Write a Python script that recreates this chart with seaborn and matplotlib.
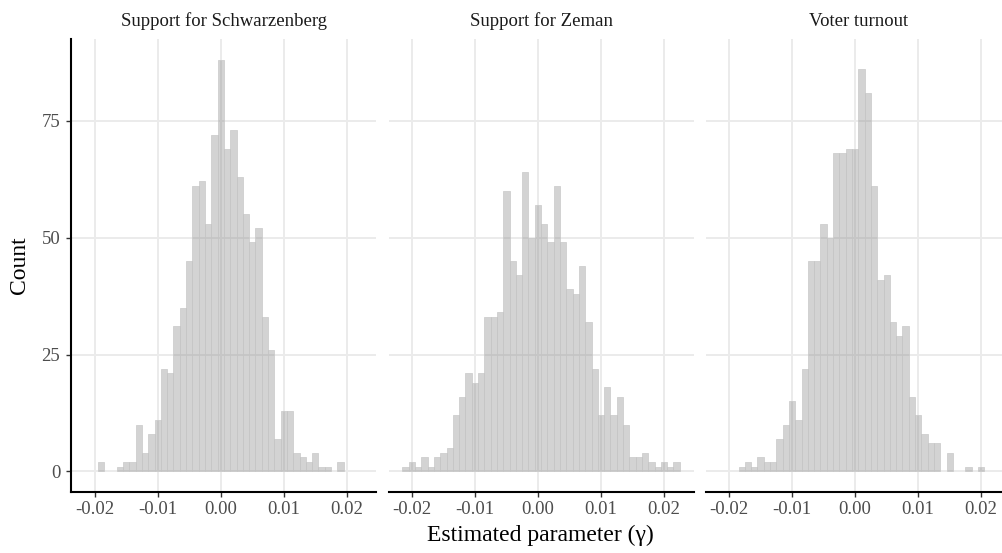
import matplotlib.pyplot as plt
import numpy as np
import pandas as pd
import seaborn as sns

sns.set_theme(style="whitegrid")
plt.rcParams["font.family"] = ["Liberation Serif", "DejaVu Serif"]
plt.rcParams["axes.unicode_minus"] = False

panels = ["Support for Schwarzenberg", "Support for Zeman", "Voter turnout"]

# histogram bins (width 0.001), first bin centred at -0.021, last at 0.022
bin_width = 0.001
first_center = -0.021
n_bins = 44

# counts per bin (bins -0.021 ... 0.022)
counts_schwarzenberg = [0, 0, 2, 0, 0, 1, 2, 2, 10, 4, 8, 11, 22, 21, 31, 35, 45, 61, 62, 53, 72, 88,
                        69, 73, 63, 55, 49, 52, 33, 26, 7, 13, 13, 4, 3, 2, 4, 1, 1, 0, 2, 0, 0, 0]
counts_zeman = [1, 2, 1, 3, 1, 3, 4, 5, 12, 16, 21, 19, 21, 33, 33, 34, 60, 45, 42, 64, 50, 57,
                53, 49, 61, 49, 39, 38, 44, 32, 22, 12, 18, 12, 16, 10, 3, 3, 4, 2, 1, 2, 1, 2]
counts_turnout = [0, 0, 0, 1, 2, 1, 3, 2, 2, 7, 10, 15, 11, 22, 45, 45, 53, 50, 68, 68, 69, 69,
                  86, 81, 61, 41, 42, 32, 29, 31, 16, 12, 8, 6, 6, 0, 4, 0, 0, 1, 0, 1, 0, 0]

x_ticks = [-0.02, -0.01, 0.00, 0.01, 0.02]
x_tick_labels = ["-0.02", "-0.01", "0.00", "0.01", "0.02"]
y_ticks = [0, 25, 50, 75]

bin_centers = np.round(first_center + bin_width * np.arange(n_bins), 4)
bin_range = (first_center - bin_width / 2, first_center + bin_width * (n_bins - 0.5))

frames = []
for name, counts in zip(panels, [counts_schwarzenberg, counts_zeman, counts_turnout]):
    frames.append(pd.DataFrame({"panel": name, "x": bin_centers, "count": counts}))
df = pd.concat(frames, ignore_index=True)

g = sns.FacetGrid(df, col="panel", col_order=panels, sharex=True, sharey=True, height=5, aspect=0.6)
g.map_dataframe(
    sns.histplot,
    x="x",
    weights="count",
    binwidth=bin_width,
    binrange=bin_range,
    color="#808080",
    alpha=0.34,
    edgecolor="#c8c8c8",
    linewidth=0.5,
)

fig = g.figure
fig.set_size_inches(10.03, 5.53)
W, H = 1003, 553
panel_w = 305.0
lefts = [71.4, 388.6, 705.8]
top_px, bottom_px = 39.3, 492.0

for i, (ax, name) in enumerate(zip(g.axes.flat, panels)):
    # empty bins are not drawn in the original
    for patch in ax.patches:
        if patch.get_height() == 0:
            patch.set_visible(False)
    ax.set_position([lefts[i] / W, 1 - bottom_px / H, panel_w / W, (bottom_px - top_px) / H])
    ax.set_xlim(-0.0237, 0.0247)
    ax.set_ylim(-4.4, 92.4)
    ax.set_xticks(x_ticks)
    ax.set_xticklabels(x_tick_labels)
    ax.set_yticks(y_ticks)
    ax.set_xlabel("")
    ax.set_ylabel("")
    ax.set_title(name, fontsize=13.5, color="#1a1a1a", pad=9.5)
    ax.grid(True, color="#ebebeb", linewidth=1.4)
    ax.set_axisbelow(True)
    for side in ["top", "right", "left", "bottom"]:
        ax.spines[side].set_visible(False)
    ax.spines["bottom"].set_visible(True)
    ax.spines["bottom"].set_color("black")
    ax.spines["bottom"].set_linewidth(1.5)
    ax.tick_params(axis="x", bottom=True, length=3.5, width=1, color="#333333",
                   labelsize=13.5, labelcolor="#4d4d4d", pad=3)
    if i == 0:
        ax.spines["left"].set_visible(True)
        ax.spines["left"].set_color("black")
        ax.spines["left"].set_linewidth(1.5)
        ax.tick_params(axis="y", left=True, length=3.5, width=1, color="#333333",
                       labelsize=13.5, labelcolor="#4d4d4d", pad=4.5)
    else:
        ax.tick_params(axis="y", left=False, labelleft=False)

fig.text(540 / W, 1 - 535 / H, "Estimated parameter (\u03b3)", ha="center", va="center",
         fontsize=17, color="black")
fig.text(20 / W, 1 - 265.6 / H, "Count", ha="center", va="center", rotation=90,
         fontsize=17, color="black")

plt.savefig("out.png", dpi=100)
plt.close("all")
